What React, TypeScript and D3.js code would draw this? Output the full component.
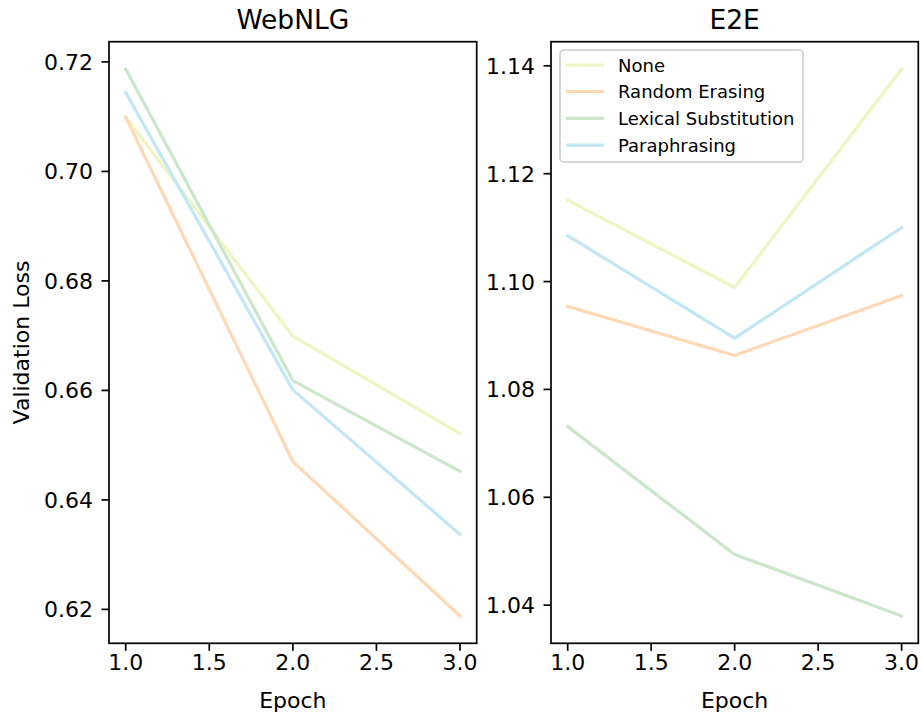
import React from "react";
import * as d3 from "d3";

const epochs = [1, 2, 3];
const seriesNames = ["None", "Random Erasing", "Lexical Substitution", "Paraphrasing"];
const seriesColors = ["#eff5c2", "#ffd9b5", "#cae7ca", "#c2e6f6"];

const webnlgNone = [0.7099, 0.6699, 0.6521];
const webnlgRandom = [0.7099, 0.6470, 0.6188];
const webnlgLexical = [0.7187, 0.6618, 0.6452];
const webnlgPara = [0.7144, 0.6601, 0.6337];

const e2eNone = [1.1151, 1.0989, 1.1394];
const e2eRandom = [1.0954, 1.0863, 1.0974];
const e2eLexical = [1.0731, 1.0494, 1.0380];
const e2ePara = [1.1085, 1.0895, 1.1100];

const xTicks = [1.0, 1.5, 2.0, 2.5, 3.0];
const webnlgTicks = [0.62, 0.64, 0.66, 0.68, 0.70, 0.72];
const e2eTicks = [1.04, 1.06, 1.08, 1.10, 1.12, 1.14];

const FONT = "DejaVu Sans, sans-serif";
const TOP = 41.7;
const BOTTOM = 643.3;
const TICK_FS = 22;

function Panel({ left, right, title, data, ticks, showYLabel, showLegend }: any) {
  const x = d3.scaleLinear().domain([0.9, 3.1]).range([left, right]);
  const all = data.flat();
  const mn = d3.min(all) as number;
  const mx = d3.max(all) as number;
  const pad = (mx - mn) * 0.05;
  const y = d3.scaleLinear().domain([mn - pad, mx + pad]).range([BOTTOM, TOP]);
  const line = d3
    .line<number>()
    .x((_, i) => x(epochs[i]))
    .y((d) => y(d));
  const cx = (left + right) / 2;
  return (
    <g>
      {data.map((s: number[], i: number) => (
        <path key={i} d={line(s) || ""} fill="none" stroke={seriesColors[i]} strokeWidth={3.2} strokeLinejoin="round" strokeLinecap="square" />
      ))}
      <rect x={left} y={TOP} width={right - left} height={BOTTOM - TOP} fill="none" stroke="#000" strokeWidth={1.7} />
      {xTicks.map((t) => (
        <g key={"x" + t}>
          <line x1={x(t)} x2={x(t)} y1={BOTTOM} y2={BOTTOM + 7.5} stroke="#000" strokeWidth={1.7} />
          <text x={x(t)} y={669.5} textAnchor="middle" fontSize={TICK_FS} fontFamily={FONT}>
            {t.toFixed(1)}
          </text>
        </g>
      ))}
      {ticks.map((t: number) => (
        <g key={"y" + t}>
          <line x1={left - 7.5} x2={left} y1={y(t)} y2={y(t)} stroke="#000" strokeWidth={1.7} />
          <text x={left - 16} y={y(t) + 8} textAnchor="end" fontSize={TICK_FS} fontFamily={FONT}>
            {t.toFixed(2)}
          </text>
        </g>
      ))}
      <text x={cx} y={29} textAnchor="middle" fontSize={26.5} fontFamily={FONT}>
        {title}
      </text>
      <text x={cx} y={708} textAnchor="middle" fontSize={TICK_FS} fontFamily={FONT}>
        Epoch
      </text>
      {showYLabel && (
        <text transform={`translate(29,${(TOP + BOTTOM) / 2}) rotate(-90)`} textAnchor="middle" fontSize={TICK_FS} fontFamily={FONT}>
          Validation Loss
        </text>
      )}
      {showLegend && (
        <g>
          <rect x={left + 9} y={50} width={243} height={112} rx={4} ry={4} fill="#fff" fillOpacity={0.8} stroke="#cccccc" strokeWidth={1.6} />
          {seriesNames.map((n, i) => (
            <g key={n}>
              <line x1={left + 15} x2={left + 53} y1={65 + i * 26.7} y2={65 + i * 26.7} stroke={seriesColors[i]} strokeWidth={3.2} />
              <text x={left + 67} y={65 + i * 26.7 + 6.5} fontSize={18} fontFamily={FONT}>
                {n}
              </text>
            </g>
          ))}
        </g>
      )}
    </g>
  );
}

export default function App() {
  return (
    <svg width={922} height={715} style={{ position: "absolute", left: 0, top: 0, background: "#fff" }}>
      <rect x={0} y={0} width={922} height={715} fill="#fff" />
      <Panel
        left={109}
        right={476.7}
        title="WebNLG"
        data={[webnlgNone, webnlgRandom, webnlgLexical, webnlgPara]}
        ticks={webnlgTicks}
        showYLabel
      />
      <Panel
        left={551}
        right={918.3}
        title="E2E"
        data={[e2eNone, e2eRandom, e2eLexical, e2ePara]}
        ticks={e2eTicks}
        showLegend
      />
    </svg>
  );
}
